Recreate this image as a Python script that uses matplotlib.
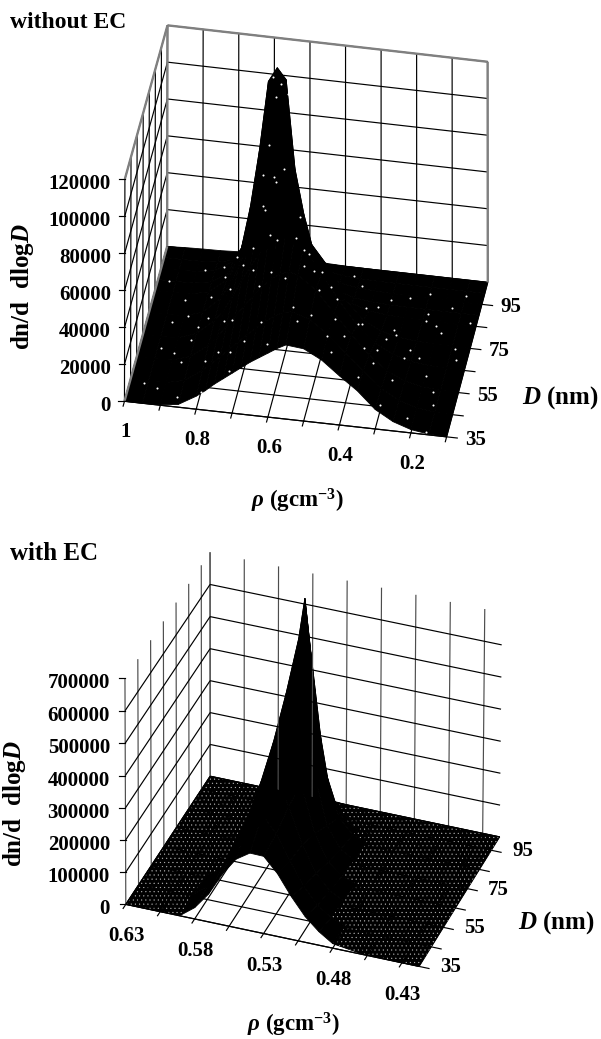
"""Two 3D surface panels of dn/d dlogD over particle density and diameter."""

import matplotlib

matplotlib.use("Agg")
import matplotlib.pyplot as plt
import numpy as np
from matplotlib.patches import Polygon

plt.rcParams["font.family"] = ["Liberation Serif", "DejaVu Serif"]
plt.rcParams["font.weight"] = "bold"
plt.rcParams["mathtext.fontset"] = "custom"
plt.rcParams["mathtext.rm"] = "Liberation Serif:bold"
plt.rcParams["mathtext.it"] = "Liberation Serif:italic"
plt.rcParams["mathtext.bf"] = "Liberation Serif:bold"
plt.rcParams["mathtext.bfit"] = "Liberation Serif:italic:bold"
plt.rcParams["hatch.linewidth"] = 0.3

# panel A, without EC
RHO_A = [1.0, 0.95, 0.9, 0.85, 0.8, 0.775, 0.75, 0.725, 0.7, 0.675, 0.65, 0.625,
         0.6, 0.575, 0.55, 0.5, 0.45, 0.4, 0.35, 0.3, 0.25, 0.2, 0.15, 0.1]
D_A = [35, 45, 55, 65, 75, 85, 90, 95, 100, 105]
Z_A = [
    [0, 0, 200, 1500, 7000, 10500, 14500, 18000, 21500, 25000, 28500, 31500, 34500, 37500, 40000, 39000, 34000, 26500, 19500, 10500, 5000, 1800, 400, 0],
    [0, 0, 300, 2500, 9000, 13000, 17500, 22000, 26500, 31000, 35000, 39000, 42500, 45000, 46000, 43000, 36000, 27000, 18500, 10000, 4500, 1600, 300, 0],
    [0, 100, 500, 3500, 10500, 15500, 22000, 28000, 34000, 40000, 45500, 50000, 53500, 55000, 54000, 47000, 36000, 25000, 15000, 7500, 3000, 1000, 200, 0],
    [0, 100, 600, 4000, 12000, 18000, 26000, 35000, 43000, 51000, 58000, 63000, 65000, 63000, 57500, 44000, 30000, 18000, 9500, 4500, 1700, 600, 100, 0],
    [0, 100, 500, 3500, 12000, 20000, 30000, 42000, 54000, 66000, 75000, 80000, 78000, 65000, 48000, 36000, 19000, 9000, 4000, 1700, 700, 200, 50, 0],
    [0, 50, 400, 2500, 10000, 18000, 31000, 48000, 68000, 87000, 100000, 92000, 58000, 40000, 24000, 11000, 5000, 2000, 800, 300, 100, 50, 0, 0],
    [0, 50, 300, 2000, 8000, 16000, 34000, 58000, 88000, 106000, 106000, 76000, 45000, 27000, 14000, 5000, 2000, 800, 300, 100, 50, 0, 0, 0],
    [0, 200, 600, 2000, 8000, 16000, 39000, 70000, 108000, 116000, 110000, 62000, 38000, 20000, 10000, 3000, 1500, 800, 400, 200, 100, 50, 0, 0],
    [0, 50, 200, 800, 3000, 6000, 12000, 26000, 45000, 58000, 50000, 26000, 13000, 6000, 3000, 1000, 400, 100, 50, 0, 0, 0, 0, 0],
    [0, 500, 800, 1000, 1500, 2000, 2500, 4000, 8000, 12000, 10000, 5000, 2000, 1000, 500, 200, 100, 0, 0, 0, 0, 0, 0, 0],
]
SPECK_RHO_A = [0.96, 0.93, 0.9, 0.88, 0.86, 0.84, 0.82, 0.8, 0.78, 0.76, 0.74, 0.72, 0.69, 0.68, 0.67, 0.66, 0.66,
               0.65, 0.64, 0.62, 0.6, 0.58, 0.56, 0.54, 0.52, 0.5, 0.48, 0.46, 0.44, 0.42, 0.4, 0.38, 0.36, 0.34,
               0.32, 0.3, 0.28, 0.26, 0.24, 0.22, 0.2, 0.18, 0.16, 0.14, 0.91, 0.83, 0.71, 0.53, 0.43, 0.37, 0.27, 0.19,
               0.97, 0.94, 0.92, 0.89, 0.87, 0.85, 0.81, 0.79, 0.77, 0.75, 0.73, 0.7, 0.68, 0.67, 0.65, 0.63, 0.61,
               0.59, 0.57, 0.55, 0.51, 0.49, 0.47, 0.45, 0.41, 0.39, 0.35, 0.33, 0.31, 0.29, 0.25, 0.23, 0.21, 0.17,
               0.15, 0.13, 0.12, 0.69, 0.66, 0.64, 0.68, 0.63, 0.55, 0.44, 0.33, 0.24, 0.16, 0.86, 0.76, 0.59]
SPECK_D_A = [44, 72, 58, 96, 38, 83, 66, 49, 91, 57, 76, 44, 64, 84, 72, 93, 55,
             78, 48, 62, 88, 52, 71, 59, 93, 47, 80, 66, 96, 54, 73, 88, 42, 62,
             78, 94, 51, 70, 85, 40, 60, 92, 48, 74, 82, 98, 36, 41, 39, 58, 66, 80,
             90, 60, 42, 75, 52, 68, 88, 37, 73, 99, 53, 86, 42, 90, 68, 80, 39,
             95, 64, 82, 72, 55, 101, 44, 86, 60, 92, 49, 76, 37, 97, 67, 83, 54,
             98, 69, 86, 97, 80, 92, 74, 58, 47, 52, 72, 88, 36, 62, 47, 98]
Z_TICKS_A = [0, 20000, 40000, 60000, 80000, 100000, 120000]
RHO_TICKS_A = [1.0, 0.9, 0.8, 0.7, 0.6, 0.5, 0.4, 0.3, 0.2, 0.1]
RHO_LABELS_A = {1.0: "1", 0.8: "0.8", 0.6: "0.6", 0.4: "0.4", 0.2: "0.2"}
D_TICKS_A = [35, 45, 55, 65, 75, 85, 95, 105]

# panel B, with EC
RHO_B = [0.63, 0.61, 0.6, 0.59, 0.58, 0.57, 0.56, 0.55, 0.54, 0.53, 0.52, 0.51, 0.5, 0.49, 0.48, 0.46, 0.44, 0.4175]
D_B = [35, 45, 55, 65, 75, 85, 90, 95, 100, 102]
Z_B = [
    [0, 0, 500, 3000, 35000, 86000, 157000, 213000, 241000, 240000, 195000, 133000, 80000, 42000, 14000, 2000, 300, 0],
    [0, 500, 2000, 8000, 40000, 105000, 195000, 275000, 300000, 250000, 175000, 105000, 55000, 25000, 10000, 1500, 200, 0],
    [0, 300, 1500, 7000, 32000, 95000, 210000, 335000, 365000, 275000, 165000, 85000, 40000, 17000, 7000, 1000, 100, 0],
    [0, 200, 1000, 4500, 22000, 80000, 215000, 400000, 445000, 285000, 140000, 60000, 25000, 10000, 4000, 600, 100, 0],
    [0, 100, 600, 3000, 14000, 60000, 200000, 490000, 535000, 270000, 105000, 40000, 15000, 6000, 2500, 400, 50, 0],
    [0, 100, 400, 1800, 8000, 38000, 170000, 600000, 480000, 190000, 70000, 25000, 10000, 4000, 1500, 300, 50, 0],
    [0, 50, 300, 1500, 7000, 30000, 150000, 697000, 320000, 80000, 30000, 12000, 5000, 2000, 800, 200, 0, 0],
    [0, 0, 200, 800, 3000, 15000, 100000, 500000, 150000, 25000, 5000, 1500, 500, 200, 100, 0, 0, 0],
    [0, 0, 0, 200, 800, 5000, 30000, 220000, 20000, 3000, 500, 100, 0, 0, 0, 0, 0, 0],
    [0, 0, 0, 0, 100, 1000, 8000, 40000, 3000, 300, 0, 0, 0, 0, 0, 0, 0, 0],
]
Z_TICKS_B = [0, 100000, 200000, 300000, 400000, 500000, 600000, 700000]
RHO_TICKS_B = [0.63, 0.605, 0.58, 0.555, 0.53, 0.505, 0.48, 0.455, 0.43]
RHO_LABELS_B = {0.63: "0.63", 0.58: "0.58", 0.53: "0.53", 0.48: "0.48", 0.43: "0.43"}
D_TICKS_B = [35, 45, 55, 65, 75, 85, 95]

D_LABELS = {35: "35", 55: "55", 75: "75", 95: "95"}
GREY = "#808080"
FONT_SIZE = 15
YLABEL = r"dn/d  dlog$\mathbfit{D}$"
RHO_TITLE = r"$\rho$ (gcm$^{\mathbf{-3}}$)"
D_TITLE = r"$\mathbfit{D}$ (nm)"


def fit_camera(corners):
    """Least-squares 3x4 projection from unit-cube corners to pixel positions."""
    rows, rhs = [], []
    for (u, v, w), (x, y) in corners.items():
        rows.append([u, v, w, 1, 0, 0, 0, 0, -x * u, -x * v, -x * w])
        rows.append([0, 0, 0, 0, u, v, w, 1, -y * u, -y * v, -y * w])
        rhs += [x, y]
    solution = np.linalg.lstsq(np.array(rows, float), np.array(rhs, float), rcond=None)[0]
    return np.append(solution, 1.0).reshape(3, 4)


class Panel:
    def __init__(self, ax, corners, rho_range, d_range, z_max):
        self.ax = ax
        self.camera = fit_camera(corners)
        self.rho_range = rho_range
        self.d_range = d_range
        self.z_max = z_max

    def project(self, rho, d, z):
        u = (self.rho_range[0] - rho) / (self.rho_range[0] - self.rho_range[1])
        v = (d - self.d_range[0]) / (self.d_range[1] - self.d_range[0])
        w = z / self.z_max
        px, py, pw = self.camera @ np.array([u, v, w, 1.0])
        return px / pw, py / pw

    def line(self, start, end, **style):
        a = self.project(*start)
        b = self.project(*end)
        style.setdefault("color", "black")
        style.setdefault("linewidth", 0.85)
        self.ax.plot([a[0], b[0]], [a[1], b[1]], solid_capstyle="butt", **style)

    def surface(self, rhos, ds, values, hatch=None, flat_limit=0):
        z = np.array(values, float)
        for j in range(len(ds) - 2, -1, -1):
            for i in range(len(rhos) - 1):
                cell = [(i, j), (i + 1, j), (i + 1, j + 1), (i, j + 1)]
                points = [self.project(rhos[a], ds[b], z[b, a]) for a, b in cell]
                self.ax.add_patch(Polygon(points, facecolor="black", edgecolor="black", linewidth=0.6))
                spread = max(z[b, a] for a, b in cell) - min(z[b, a] for a, b in cell)
                if hatch and spread < flat_limit:
                    self.ax.add_patch(Polygon(points, facecolor="black", edgecolor="#b4b4b4", linewidth=0, hatch=hatch))

    def specks(self, rhos, ds, grid_rho, grid_d, values):
        z = np.array(values, float)
        xs, ys = [], []
        for rho, d in zip(rhos, ds):
            i = int(np.argmin(np.abs(np.array(grid_rho) - rho)))
            j = int(np.argmin(np.abs(np.array(grid_d) - d)))
            x, y = self.project(rho, d, z[j, i])
            xs.append(x)
            ys.append(y)
        self.ax.scatter(xs, ys, s=2.2, c="white", linewidths=0, zorder=5)

    def z_axis(self, ticks, labels_x):
        rho0, d0 = self.rho_range[0], self.d_range[0]
        for value in ticks:
            x, y = self.project(rho0, d0, value)
            self.ax.plot([x - 6, x], [y, y], color="black", linewidth=0.85)
            self.ax.text(labels_x, y + 5, str(value), ha="right", va="center", fontsize=FONT_SIZE)

    def rho_axis(self, ticks, labels, offset):
        d0 = self.d_range[0]
        step = (self.d_range[1] - d0) * 0.035
        for value in ticks:
            self.line((value, d0 - step, 0), (value, d0, 0))
            if value in labels:
                x, y = self.project(value, d0, 0)
                self.ax.text(x + offset[0], y + offset[1], labels[value], ha="center", va="center", fontsize=FONT_SIZE)

    def d_axis(self, ticks, labels, offset):
        rho1 = self.rho_range[1]
        step = (self.rho_range[0] - rho1) * 0.035
        for value in ticks:
            self.line((rho1 - step, value, 0), (rho1, value, 0))
            if value in labels:
                x, y = self.project(rho1, value, 0)
                self.ax.text(x + offset[0], y + offset[1], labels[value], ha="center", va="center", fontsize=FONT_SIZE)


def draw_panel_a(ax):
    corners = {
        (0, 0, 0): (125, 402), (1, 0, 0): (446, 437), (1, 1, 0): (488, 282), (0, 1, 0): (167, 246),
        (0, 0, 1): (125, 178), (0, 1, 1): (167, 26), (1, 1, 1): (488, 62),
    }
    rho_a, rho_b = RHO_TICKS_A[0], RHO_TICKS_A[-1]
    d_a, d_b = D_TICKS_A[0], D_TICKS_A[-1]
    panel = Panel(ax, corners, (rho_a, rho_b), (d_a, d_b), Z_TICKS_A[-1])
    for rho in RHO_TICKS_A:
        panel.line((rho, d_a, 0), (rho, d_b, 0))
        panel.line((rho, d_b, 0), (rho, d_b, Z_TICKS_A[-1]))
    for d in D_TICKS_A:
        panel.line((rho_b, d, 0), (rho_a, d, 0))
        panel.line((rho_a, d, 0), (rho_a, d, Z_TICKS_A[-1]))
    for z in Z_TICKS_A:
        panel.line((rho_a, d_a, z), (rho_a, d_b, z))
        panel.line((rho_a, d_b, z), (rho_b, d_b, z))
    frame = dict(color=GREY, linewidth=1.7)
    panel.line((rho_a, d_a, 0), (rho_a, d_b, 0), **frame)
    panel.line((rho_a, d_a, Z_TICKS_A[-1]), (rho_a, d_b, Z_TICKS_A[-1]), **frame)
    panel.line((rho_a, d_b, Z_TICKS_A[-1]), (rho_b, d_b, Z_TICKS_A[-1]), **frame)
    panel.line((rho_a, d_b, 0), (rho_a, d_b, Z_TICKS_A[-1]), **frame)
    panel.line((rho_b, d_b, 0), (rho_b, d_b, Z_TICKS_A[-1]), **frame)
    panel.surface(RHO_A, D_A, Z_A)
    panel.specks(SPECK_RHO_A, SPECK_D_A, RHO_A, D_A, Z_A)
    panel.line((rho_a, d_a, 0), (rho_b, d_a, 0))
    panel.z_axis(Z_TICKS_A, 111)
    panel.rho_axis(RHO_TICKS_A, RHO_LABELS_A, (1, 31))
    panel.d_axis(D_TICKS_A[:-1], D_LABELS, (29, 3))
    ax.text(10, 23, "without EC", ha="left", va="center", fontsize=17)
    ax.text(22, 287, YLABEL, rotation=90, ha="center", va="center", fontsize=18)
    ax.text(297, 501, RHO_TITLE, ha="center", va="center", fontsize=16.5)
    ax.text(599, 398, D_TITLE, ha="right", va="center", fontsize=18)


def draw_panel_b(ax):
    corners = {
        (0, 0, 0): (126, 904), (1, 0, 0): (419, 967), (1, 1, 0): (500, 836), (0, 1, 0): (210, 777),
        (0, 0, 1): (125, 678), (0, 1, 1): (210, 552), (1, 1, 1): (502, 613),
    }
    rho_a, rho_b = RHO_B[0], RHO_B[-1]
    d_a, d_b = D_B[0], D_B[-1]
    z_top = Z_TICKS_B[-1]
    panel = Panel(ax, corners, (rho_a, rho_b), (d_a, d_b), z_top)
    for rho in RHO_TICKS_B:
        panel.line((rho, d_a, 0), (rho, d_b, 0))
        panel.line((rho, d_b, 0), (rho, d_b, z_top), color="#4d4d4d")
    for d in D_TICKS_B + [d_b]:
        panel.line((rho_b, d, 0), (rho_a, d, 0))
        panel.line((rho_a, d, 0), (rho_a, d, z_top), color="#4d4d4d")
    for z in Z_TICKS_B[:-1]:
        panel.line((rho_a, d_a, z), (rho_a, d_b, z))
        panel.line((rho_a, d_b, z), (rho_b, d_b, z))
    panel.surface(RHO_B, D_B, Z_B, hatch="....", flat_limit=30000)
    panel.line((rho_a, d_a, 0), (rho_b, d_a, 0))
    panel.z_axis(Z_TICKS_B, 110)
    panel.rho_axis(RHO_TICKS_B, RHO_LABELS_B, (1, 32))
    panel.d_axis(D_TICKS_B, D_LABELS, (31, 1))
    ax.text(10, 554, "with EC", ha="left", va="center", fontsize=18)
    ax.text(15, 804, YLABEL, rotation=90, ha="center", va="center", fontsize=18)
    ax.text(293, 1025, RHO_TITLE, ha="center", va="center", fontsize=16.5)
    ax.text(595, 923, D_TITLE, ha="right", va="center", fontsize=18)


def main():
    fig = plt.figure(figsize=(6.01, 10.39), dpi=100)
    ax = fig.add_axes([0, 0, 1, 1])
    ax.set_xlim(0, 601)
    ax.set_ylim(1039, 0)
    ax.axis("off")
    draw_panel_a(ax)
    draw_panel_b(ax)
    fig.savefig("out.png", dpi=100)
    plt.close(fig)


if __name__ == "__main__":
    main()
